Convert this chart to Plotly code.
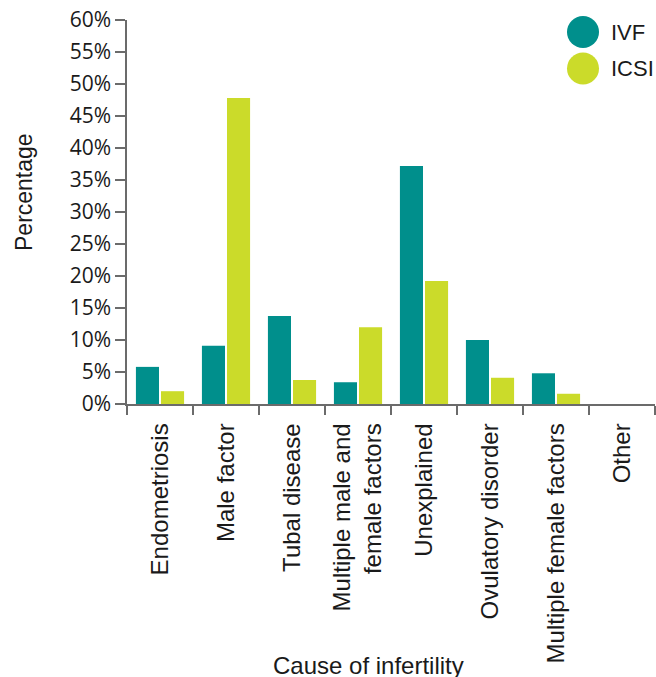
import plotly.graph_objects as go

categories = ["Endometriosis", "Male factor", "Tubal disease",
              "Multiple male and<br>female factors", "Unexplained",
              "Ovulatory disorder", "Multiple female factors", "Other"]
ivf = [5.8, 9.1, 13.75, 3.4, 37.2, 10.0, 4.8, 0]
icsi = [2.0, 47.8, 3.75, 12.0, 19.2, 4.1, 1.6, 0]
series_names = ["IVF", "ICSI"]
colors = ["#008f8c", "#cbdb2a"]
y_ticks = list(range(0, 61, 5))
y_tick_labels = [f"{v}%" for v in y_ticks]

PW, PH = 528, 384  # plot area in pixels
fig = go.Figure()
for name, vals, col in zip(series_names, [ivf, icsi], colors):
    fig.add_trace(go.Bar(x=categories, y=vals, name=name, marker_color=col,
                         marker_line_width=0, showlegend=False))

axis_col = "#6b6b6b"
fig.update_layout(
    width=656, height=677,
    margin=dict(l=127, r=1, t=20, b=273, pad=0),
    paper_bgcolor="white", plot_bgcolor="white",
    barmode="group", bargap=0.24, bargroupgap=0.08,
    font=dict(family="Liberation Sans, Arial", color="#1a1a1a"),
    xaxis=dict(showline=True, linecolor=axis_col, linewidth=1.5,
               ticks="outside", tickson="boundaries", ticklen=9,
               tickcolor=axis_col, tickwidth=1.5, ticklabelstandoff=8,
               tickangle=-90, tickfont=dict(size=24, family="Liberation Sans, Arial"),
               showgrid=False),
    yaxis=dict(range=[0, 60], tickvals=y_ticks, ticktext=y_tick_labels,
               showline=True, linecolor=axis_col, linewidth=1.5,
               ticks="outside", ticklen=10, tickcolor=axis_col, tickwidth=1.5,
               tickfont=dict(size=21, family="Open Sans"),
               showgrid=False, zeroline=False),
)

# axis titles
fig.add_annotation(text="Percentage", xref="paper", yref="paper",
                   x=(24 - 127) / PW, y=(404 - 192) / PH,
                   xanchor="center", yanchor="middle",
                   textangle=-90, showarrow=False,
                   font=dict(size=23, family="Liberation Sans, Arial"))
fig.add_annotation(text="Cause of infertility", xref="paper", yref="paper",
                   x=(368 - 127) / PW, y=(404 - 665) / PH,
                   xanchor="center", yanchor="middle",
                   showarrow=False, font=dict(size=24, family="Liberation Sans, Arial"))

# legend (manual, large circles)
legend_y = [32, 68.5]
for name, col, ly in zip(series_names, colors, legend_y):
    yc = (404 - ly) / PH
    fig.add_shape(type="circle", xref="paper", yref="paper",
                  xsizemode="pixel", ysizemode="pixel",
                  xanchor=(583 - 127) / PW, yanchor=yc,
                  x0=-16, x1=16, y0=-16, y1=16,
                  fillcolor=col, line_width=0)
    fig.add_annotation(text=name, xref="paper", yref="paper",
                       x=(609 - 127) / PW, y=yc, xanchor="left", yanchor="middle",
                       showarrow=False, font=dict(size=22, family="Liberation Sans, Arial"))

fig.write_html("out.html",
               config={"displayModeBar": False},
               post_script="document.body.style.margin='0';"
                           "document.body.style.overflow='hidden';")
